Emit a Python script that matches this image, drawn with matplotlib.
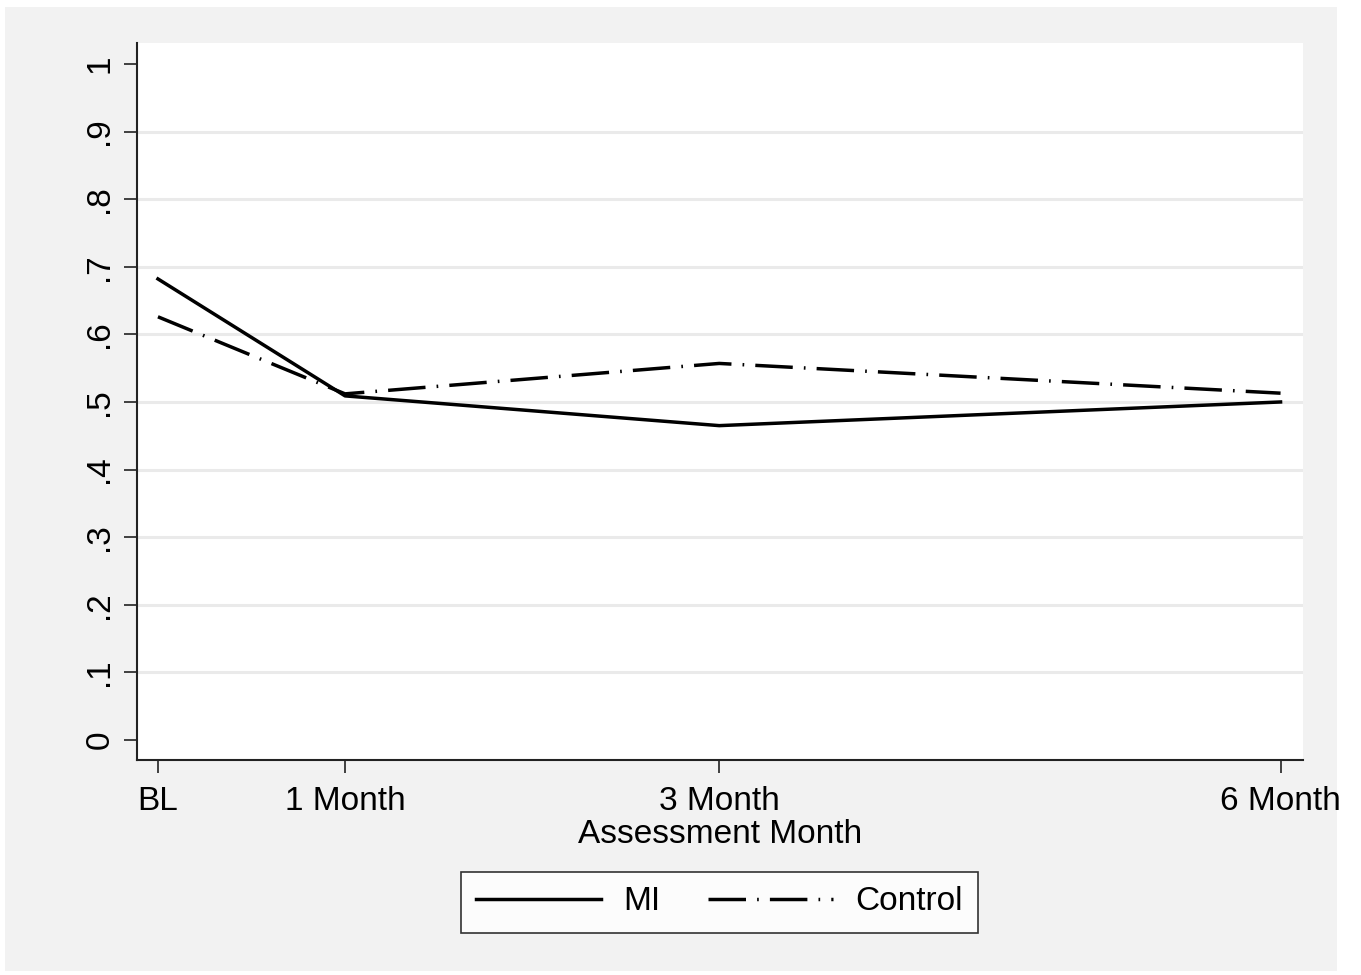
import matplotlib.pyplot as plt
from matplotlib.patches import Rectangle

# assessment months (BL = 0)
months = [0, 1, 3, 6]
month_labels = ['BL', '1 Month', '3 Month', '6 Month']
mi_vals = [0.682, 0.509, 0.465, 0.500]
control_vals = [0.626, 0.512, 0.557, 0.513]
y_ticks = [0, 0.1, 0.2, 0.3, 0.4, 0.5, 0.6, 0.7, 0.8, 0.9, 1]
y_labels = ['0', '.1', '.2', '.3', '.4', '.5', '.6', '.7', '.8', '.9', '1']

plt.rcParams['font.family'] = ['Liberation Sans', 'DejaVu Sans']
plt.rcParams['lines.scale_dashes'] = False

W, H = 1361, 975
FS = 24
fig = plt.figure(figsize=(W / 100, H / 100), dpi=100, facecolor='white')
# stata-style gray graph region
fig.patches.append(Rectangle((5 / W, 1 - 971 / H), 1332 / W, 964 / H,
                             transform=fig.transFigure, facecolor='#f2f2f2',
                             edgecolor='none', zorder=-10))

ax = fig.add_axes([137 / W, 1 - 760 / H, 1166 / W, 717 / H])
ax.set_facecolor('white')

# horizontal grid lines (0 and 1 omitted)
for yv in y_ticks[1:-1]:
    ax.axhline(yv, color='#eaeaea', lw=2.2, zorder=0)

ax.plot(months, mi_vals, color='black', lw=2.5, label='MI')
ax.plot(months, control_vals, color='black', lw=2.5,
        linestyle=(0, (27, 8, 1.2, 8)), label='Control')

ax.set_xlim(-0.112, 6.12)
ax.set_ylim(-0.0296, 1.031)
ax.set_xticks(months)
ax.set_xticklabels(month_labels)
ax.set_yticks(y_ticks)
ax.set_yticklabels(y_labels, rotation=90, va='center')
ax.tick_params(axis='both', direction='out', length=9.5, width=1.2,
               color='#222222', labelsize=FS)
ax.tick_params(axis='x', pad=9)
ax.tick_params(axis='y', pad=6)

for side in ['top', 'right']:
    ax.spines[side].set_visible(False)
for side in ['left', 'bottom']:
    ax.spines[side].set_linewidth(1.5)
    ax.spines[side].set_color('#222222')

ax.set_xlabel('Assessment Month', fontsize=FS, va='center')
ax.xaxis.set_label_coords(0.5, -0.104)

leg = fig.legend(loc='center', bbox_to_anchor=(719.5 / W, 1 - 902 / H), ncol=2,
                 fontsize=FS, frameon=True, fancybox=False, handlelength=3.75,
                 columnspacing=1.45, handletextpad=0.65, borderpad=0.45,
                 edgecolor='black')
leg.get_frame().set_linewidth(1.2)

fig.savefig('out.png', dpi=100, facecolor=fig.get_facecolor())
